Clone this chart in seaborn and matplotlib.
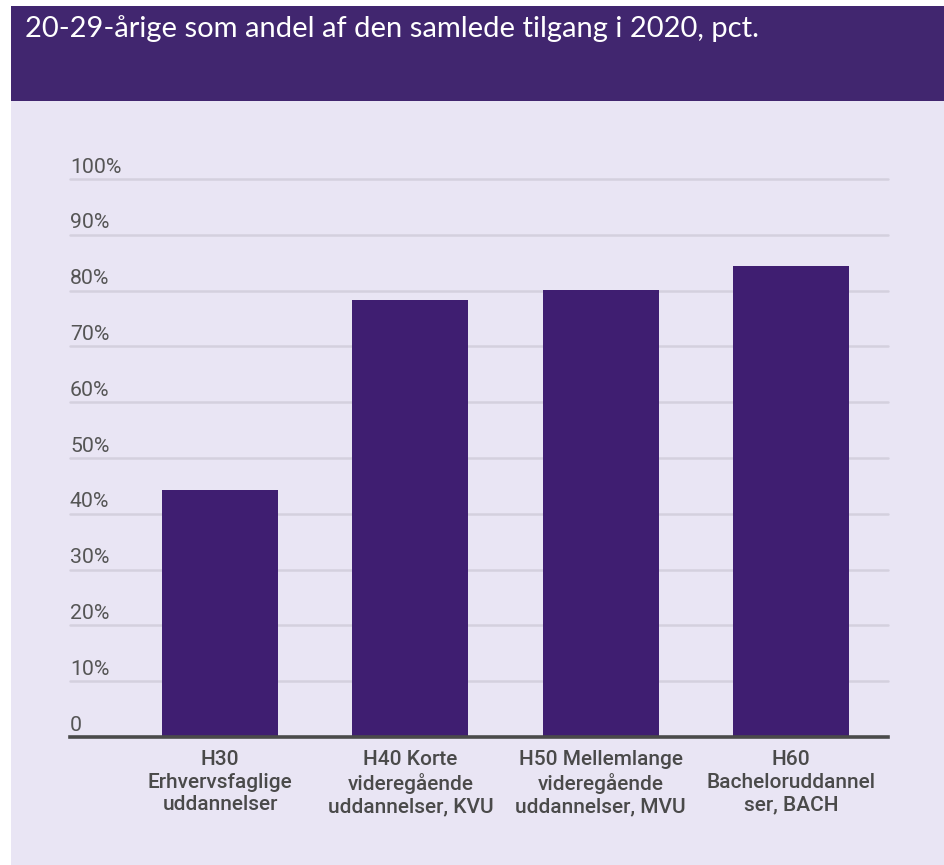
import matplotlib
matplotlib.use("Agg")
import matplotlib.pyplot as plt
import seaborn as sns
import pandas as pd
from matplotlib.patches import Rectangle
from matplotlib import transforms

categories = [
    "H30\nErhvervsfaglige\nuddannelser",
    "H40 Korte\nvideregående\nuddannelser, KVU",
    "H50 Mellemlange\nvideregående\nuddannelser, MVU",
    "H60\nBacheloruddannel\nser, BACH",
]
values = [44.2, 78.3, 80.1, 84.4]
ytick_values = [0, 10, 20, 30, 40, 50, 60, 70, 80, 90, 100]
ytick_labels = ["0", "10%", "20%", "30%", "40%", "50%", "60%", "70%", "80%", "90%", "100%"]
title = "20-29-årige som andel af den samlede tilgang i 2020, pct."

BG = "#E9E5F4"
PURPLE = "#41266F"
BAR = "#3F1E71"
GRID = "#D4D0DE"
TXT = "#555555"

sns.set_theme(style="white")
plt.rcParams["font.family"] = ["Roboto", "DejaVu Sans"]

W, H = 944, 865
fig = plt.figure(figsize=(W / 100, H / 100), dpi=100)
fig.patch.set_facecolor("white")

# lavender background and purple title band
fig.patches.append(Rectangle((11 / W, 0), 1 - 11 / W, 1 - 101 / H, transform=fig.transFigure,
                             facecolor=BG, edgecolor="none", zorder=-2))
fig.patches.append(Rectangle((11 / W, 1 - 101 / H), 1 - 11 / W, 95 / H, transform=fig.transFigure,
                             facecolor=PURPLE, edgecolor="none", zorder=-2))
fig.text(25 / W, 1 - 37.5 / H, title, color="white", fontsize=21,
         family=["Lato", "DejaVu Sans"], ha="left", va="baseline")

x0, x1 = 70, 888
y0, y1 = 737, 179
ax = fig.add_axes([x0 / W, (H - y0) / H, (x1 - x0) / W, (y0 - y1) / H])
ax.set_facecolor("none")
ax.set_zorder(2)

df = pd.DataFrame({"kategori": categories, "andel": values})
sns.barplot(data=df, x="kategori", y="andel", color=BAR, saturation=1, width=0.61,
            ax=ax, zorder=3, edgecolor="none")

ax.set_xlim(-0.789, 3.51)
ax.set_ylim(0, 100)
ax.set_xlabel("")
ax.set_ylabel("")
for s in ["top", "right", "left"]:
    ax.spines[s].set_visible(False)
ax.spines["bottom"].set_color("#4A4A4A")
ax.spines["bottom"].set_linewidth(2.6)
ax.spines["bottom"].set_zorder(5)

ax.set_yticks(ytick_values)
ax.set_yticklabels([])
ax.tick_params(axis="y", length=0)
for v in ytick_values[1:]:
    ax.axhline(v, color=GRID, linewidth=1.8, zorder=1, clip_on=False)
trans = transforms.blended_transform_factory(ax.transAxes, ax.transData)
for v, lab in zip(ytick_values, ytick_labels):
    ax.text(0.0, v + 1.15, lab, transform=trans, ha="left", va="baseline",
            fontsize=15.3, color=TXT)

ax.tick_params(axis="x", length=0, pad=9.5)
ax.set_xticks(range(len(categories)))
ax.set_xticklabels(categories, fontsize=15, color="#4A4A4A", linespacing=1.24,
                   fontweight="medium")

fig.savefig("out.png", dpi=100, facecolor=fig.get_facecolor())
